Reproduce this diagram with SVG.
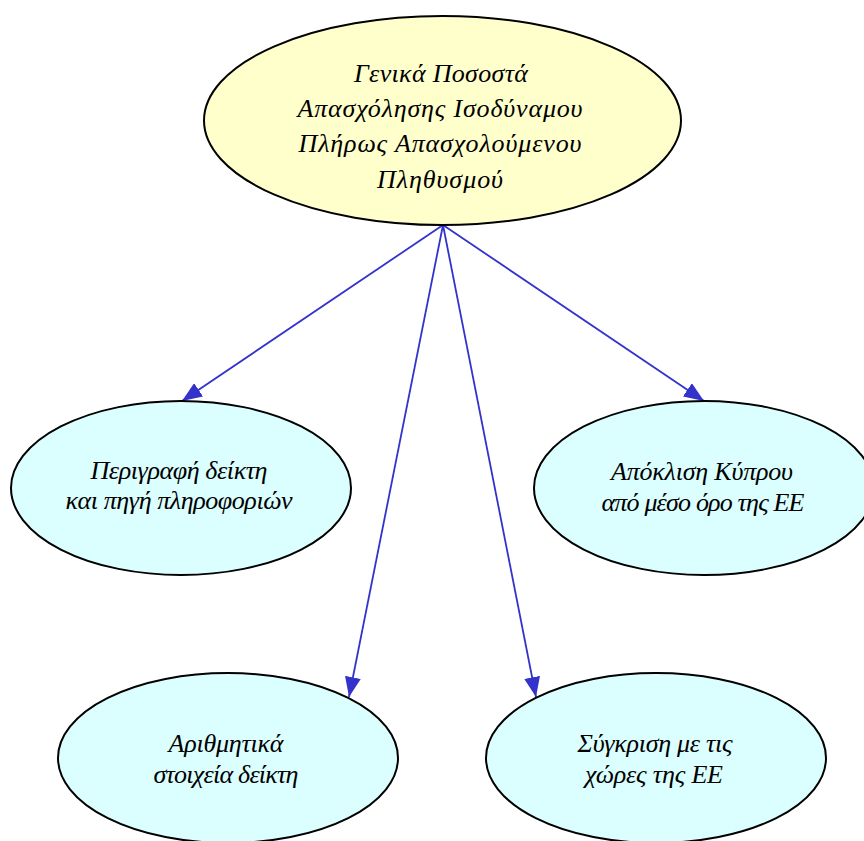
<svg xmlns="http://www.w3.org/2000/svg" width="864" height="841" viewBox="0 0 864 841">
<style>
.node ellipse{stroke:#000;stroke-width:2}
.root ellipse{fill:#FFFFCC}
.leaf ellipse{fill:#DBFFFF}
text{font-family:"Liberation Serif","DejaVu Serif",serif;font-style:italic;font-size:26px;fill:#000;text-anchor:middle}
.edge{stroke:#3333CC;stroke-width:1.8;fill:none;marker-end:url(#ah)}
</style>
<defs>
<marker id="ah" markerUnits="userSpaceOnUse" markerWidth="20" markerHeight="16" refX="20" refY="8" orient="auto" viewBox="0 0 20 16">
<path d="M0,0 L20,8 L0,16 z" fill="#3333CC"/>
</marker>
</defs>
<rect width="864" height="841" fill="#fff"/>
<g id="connectors">
<line class="edge" x1="443" y1="225" x2="182" y2="401"/>
<line class="edge" x1="443" y1="225" x2="349" y2="697"/>
<line class="edge" x1="443" y1="225" x2="536" y2="697"/>
<line class="edge" x1="443" y1="225" x2="704" y2="401"/>
</g>
<g id="root" class="node root">
<ellipse cx="442.5" cy="120.5" rx="238.5" ry="104.5"/>
<text x="441" y="81.5" textLength="174" lengthAdjust="spacing">Γενικά Ποσοστά</text>
<text x="440" y="117" textLength="285" lengthAdjust="spacing">Απασχόλησης Ισοδύναμου</text>
<text x="440" y="152" textLength="283" lengthAdjust="spacing">Πλήρως Απασχολούμενου</text>
<text x="440" y="187.5" textLength="126" lengthAdjust="spacing">Πληθυσμού</text>
</g>
<g id="n-perigrafi" class="node leaf">
<ellipse cx="181" cy="488" rx="170" ry="87"/>
<text x="179" y="478.5" textLength="177" lengthAdjust="spacing">Περιγραφή δείκτη</text>
<text x="179" y="509" textLength="227" lengthAdjust="spacing">και πηγή πληροφοριών</text>
</g>
<g id="n-apoklisi" class="node leaf">
<ellipse cx="704" cy="488" rx="170" ry="87"/>
<text x="702" y="479.5" textLength="182" lengthAdjust="spacing">Απόκλιση Κύπρου</text>
<text x="703" y="510.5" textLength="203" lengthAdjust="spacing">από μέσο όρο της ΕΕ</text>
</g>
<g id="n-arithmitika" class="node leaf">
<ellipse cx="228" cy="758" rx="170" ry="85"/>
<text x="226" y="752" textLength="115" lengthAdjust="spacing">Αριθμητικά</text>
<text x="226" y="782.5" textLength="145" lengthAdjust="spacing">στοιχεία δείκτη</text>
</g>
<g id="n-sygkrisi" class="node leaf">
<ellipse cx="656" cy="758" rx="170" ry="85"/>
<text x="655" y="752" textLength="155" lengthAdjust="spacing">Σύγκριση με τις</text>
<text x="654" y="782.5" textLength="138" lengthAdjust="spacing">χώρες της ΕΕ</text>
</g>
</svg>
